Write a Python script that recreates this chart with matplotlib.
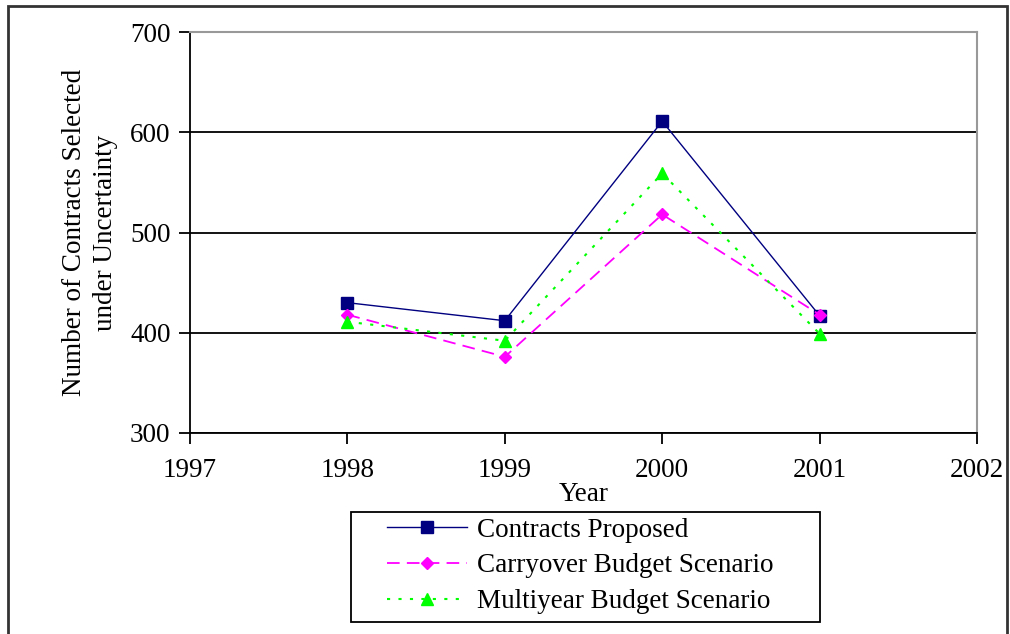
import matplotlib.pyplot as plt
from matplotlib.patches import Rectangle

years = [1998, 1999, 2000, 2001]
proposed = [430, 412, 611, 417]
carryover = [418, 376, 518, 418]
multiyear = [411, 392, 559, 399]

plt.rcParams['font.family'] = ['Liberation Serif', 'DejaVu Serif']
fs = 19.5

fig = plt.figure(figsize=(10.1, 6.34), dpi=100)
ax = fig.add_axes([190/1010, 1 - 433/634, (977-190)/1010, (433-32)/634])

ax.plot(years, proposed, color='#000080', lw=1, marker='s', ms=8,
        label='Contracts Proposed')
ax.plot(years, carryover, color='#FF00FF', lw=1.3, ls=(0, (7, 4)), marker='D', ms=6,
        label='Carryover Budget Scenario')
ax.plot(years, multiyear, color='#00FF00', lw=1.5, ls=(0, (1.5, 4)), marker='^', ms=9,
        label='Multiyear Budget Scenario')

ax.set_xlim(1997, 2002)
ax.set_ylim(300, 700)
ax.set_xticks(range(1997, 2003))
ax.set_yticks(range(300, 701, 100))
ax.grid(axis='y', color='black', lw=1.3)
ax.set_axisbelow(True)
ax.tick_params(direction='out', length=8, width=1.3, labelsize=fs)
ax.tick_params(axis='x', pad=10)
ax.tick_params(axis='y', pad=6)

for s in ['top', 'right']:
    ax.spines[s].set_color('#999999')
    ax.spines[s].set_linewidth(1.5)
for s in ['left', 'bottom']:
    ax.spines[s].set_color('black')
    ax.spines[s].set_linewidth(1.3)

ax.set_xlabel('Year', fontsize=fs, labelpad=-1)
ax.set_ylabel('Number of Contracts Selected\nunder Uncertainty', fontsize=fs,
              linespacing=1.3, labelpad=9)

# legend box drawn separately so the padding matches the original
fig.patches.append(Rectangle((351/1010, 1 - 622/634), 469/1010, 110/634,
                             transform=fig.transFigure, fill=False,
                             edgecolor='black', lw=1.3))
leg = fig.legend(loc='center left', bbox_to_anchor=(387/1010, 1 - 566/634),
                 fontsize=fs, frameon=False, handlelength=2.95,
                 borderpad=0, labelspacing=0.4, handletextpad=0.37, borderaxespad=0)

fig.patches.append(Rectangle((8/1010, -0.01), 999/1010, 1 - 6/634 + 0.01,
                             transform=fig.transFigure, fill=False,
                             edgecolor='#333333', lw=2))

fig.savefig('out.png', dpi=100)
